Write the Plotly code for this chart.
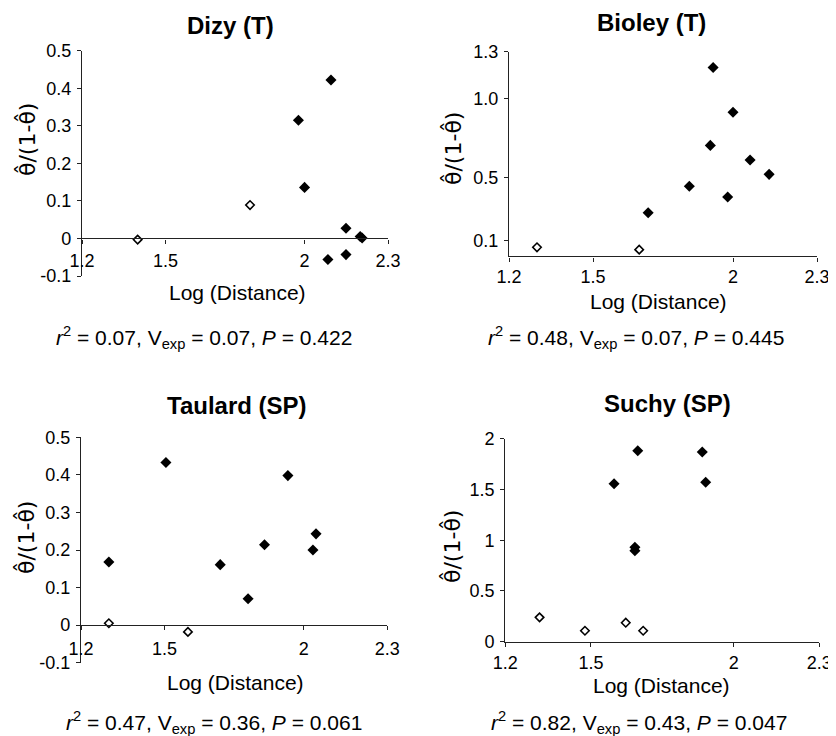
import plotly.graph_objects as go

# browser window size; the page body adds an 8px margin, so the figure is sized to fit
W, H = 836, 736
OFF = 8
FW, FH = W - OFF, H - OFF

# ---- data ----
dizy_open_x = [1.40, 1.804]
dizy_open_y = [-0.003, 0.089]
dizy_fill_x = [1.978, 2.095, 2.000, 2.149, 2.200, 2.207, 2.084, 2.149]
dizy_fill_y = [0.315, 0.422, 0.136, 0.027, 0.005, 0.001, -0.056, -0.043]

bioley_open_x = [1.30, 1.665]
bioley_open_y = [0.058, 0.043]
bioley_fill_x = [1.697, 1.844, 1.919, 1.929, 1.981, 2.000, 2.061, 2.129]
bioley_fill_y = [0.277, 0.445, 0.705, 1.200, 0.377, 0.915, 0.612, 0.521]

taulard_open_x = [1.30, 1.584]
taulard_open_y = [0.005, -0.018]
taulard_fill_x = [1.30, 1.505, 1.700, 1.800, 1.859, 1.943, 2.033, 2.044]
taulard_fill_y = [0.168, 0.433, 0.161, 0.070, 0.214, 0.398, 0.200, 0.243]

suchy_open_x = [1.32, 1.479, 1.622, 1.683]
suchy_open_y = [0.24, 0.108, 0.187, 0.108]
suchy_fill_x = [1.581, 1.664, 1.654, 1.654, 1.890, 1.902]
suchy_fill_y = [1.557, 1.882, 0.930, 0.897, 1.869, 1.570]

titles = ["Dizy (T)", "Bioley (T)", "Taulard (SP)", "Suchy (SP)"]
captions = [("0.07", "0.07", "0.422"), ("0.48", "0.07", "0.445"),
            ("0.47", "0.36", "0.061"), ("0.82", "0.43", "0.047")]
x_ticks = [1.2, 1.5, 2, 2.3]
x_ticktext = ["1.2", "1.5", "2", "2.3"]
y_ticks_small = [-0.1, 0, 0.1, 0.2, 0.3, 0.4, 0.5]
y_ticktext_small = ["-0.1", "0", "0.1", "0.2", "0.3", "0.4", "0.5"]
y_ticks_bioley = [0.1, 0.5, 1.0, 1.3]
y_ticktext_bioley = ["0.1", "0.5", "1.0", "1.3"]
y_ticks_suchy = [0, 0.5, 1, 1.5, 2]
y_ticktext_suchy = ["0", "0.5", "1", "1.5", "2"]

FONT = "Liberation Sans, Arial, sans-serif"
AX = "#222222"

def px_x(p):
    return (p - OFF) / FW

def px_y(p):
    return 1 - (p - OFF) / FH

panels = [
    dict(xb=(82, 388), yb=(50.7, 276.0), yr=(-0.1, 0.5), yt=y_ticks_small, ytt=y_ticktext_small,
         ox=dizy_open_x, oy=dizy_open_y, fx=dizy_fill_x, fy=dizy_fill_y, zero=True, so=2),
    dict(xb=(509, 817), yb=(51.7, 256.4), yr=(0, 1.3), yt=y_ticks_bioley, ytt=y_ticktext_bioley,
         ox=bioley_open_x, oy=bioley_open_y, fx=bioley_fill_x, fy=bioley_fill_y, zero=False, so=0),
    dict(xb=(81, 387.3), yb=(437.3, 662.7), yr=(-0.1, 0.5), yt=y_ticks_small, ytt=y_ticktext_small,
         ox=taulard_open_x, oy=taulard_open_y, fx=taulard_fill_x, fy=taulard_fill_y, zero=True, so=3),
    dict(xb=(505.3, 819.3), yb=(438.7, 641.7), yr=(0, 2), yt=y_ticks_suchy, ytt=y_ticktext_suchy,
         ox=suchy_open_x, oy=suchy_open_y, fx=suchy_fill_x, fy=suchy_fill_y, zero=False, so=1),
]

title_pos = [(230, 25), (651, 22), (237, 406), (667, 404)]
xtitle_pos = [(237, 293), (658, 301), (235, 682), (661, 685)]
ytitle_pos = [(27, 140), (453, 149), (26, 538), (452, 547)]
cap_pos = [(204, 338), (636, 338), (214, 722), (639, 722)]

fig = go.Figure()
layout = dict(
    width=FW, height=FH, margin=dict(l=0, r=0, t=0, b=0, autoexpand=False),
    paper_bgcolor="white", plot_bgcolor="white", showlegend=False,
    font=dict(family=FONT, color="black"),
)
annotations = []

for i, p in enumerate(panels):
    n = "" if i == 0 else str(i + 1)
    xa, ya = "x" + n, "y" + n
    x0, x1 = p["xb"]
    yt_px, yb_px = p["yb"]
    ylo, yhi = p["yr"]
    fig.add_trace(go.Scatter(
        x=p["fx"], y=p["fy"], mode="markers", xaxis=xa, yaxis=ya,
        marker=dict(symbol="diamond", size=8.5, color="black", line=dict(width=0)),
        cliponaxis=False))
    fig.add_trace(go.Scatter(
        x=p["ox"], y=p["oy"], mode="markers", xaxis=xa, yaxis=ya,
        marker=dict(symbol="diamond", size=6.5, color="white", line=dict(width=1.6, color="black")),
        cliponaxis=False))
    ydom = [px_y(yb_px), px_y(yt_px)]
    xax = dict(domain=[px_x(x0), px_x(x1)], range=[1.2, 2.3], showgrid=False, zeroline=False,
               showline=True, linecolor=AX, linewidth=1.3, ticks="outside", ticklen=4,
               tickcolor=AX, tickwidth=1.3, tickvals=x_ticks, ticktext=x_ticktext,
               tickfont=dict(size=18, family=FONT, color="black"), fixedrange=True,
               automargin=False, ticklabelstandoff=p["so"])
    if p["zero"]:
        zero_px = yb_px - (0 - ylo) / (yhi - ylo) * (yb_px - yt_px)
        xax.update(anchor="free", position=px_y(zero_px))
    else:
        xax.update(anchor=ya)
    yax = dict(domain=ydom, range=[ylo, yhi], showgrid=False, zeroline=False,
               showline=True, linecolor=AX, linewidth=1.3, ticks="outside", ticklen=4,
               tickcolor=AX, tickwidth=1.3, tickvals=p["yt"], ticktext=p["ytt"],
               tickfont=dict(size=18, family=FONT, color="black"), anchor=xa,
               ticklabelstandoff=2, fixedrange=True, automargin=False)
    layout["xaxis" + n] = xax
    layout["yaxis" + n] = yax

    tx, ty = title_pos[i]
    annotations.append(dict(text="<b>" + titles[i] + "</b>", x=px_x(tx), y=px_y(ty),
                            xref="paper", yref="paper", showarrow=False,
                            font=dict(size=24, family=FONT, color="black"),
                            xanchor="center", yanchor="middle"))
    tx, ty = xtitle_pos[i]
    annotations.append(dict(text="Log (Distance)", x=px_x(tx), y=px_y(ty),
                            xref="paper", yref="paper", showarrow=False,
                            font=dict(size=21, family=FONT, color="black"),
                            xanchor="center", yanchor="middle"))
    tx, ty = ytitle_pos[i]
    annotations.append(dict(text="\u03b8\u0302/(1-\u03b8\u0302)", x=px_x(tx), y=px_y(ty),
                            xref="paper", yref="paper", showarrow=False, textangle=-90,
                            font=dict(size=22, family="DejaVu Sans", color="black"),
                            xanchor="center", yanchor="middle"))
    r2, v, pv = captions[i]
    tx, ty = cap_pos[i]
    annotations.append(dict(
        text=f"<i>r</i><sup>2</sup> = {r2}, V<sub>exp</sub> = {v}, <i>P</i> = {pv}",
        x=px_x(tx), y=px_y(ty), xref="paper", yref="paper", showarrow=False,
        font=dict(size=21, family=FONT, color="black"), xanchor="center", yanchor="middle"))

layout["annotations"] = annotations
fig.update_layout(**layout)
fig.write_html("out.html")
